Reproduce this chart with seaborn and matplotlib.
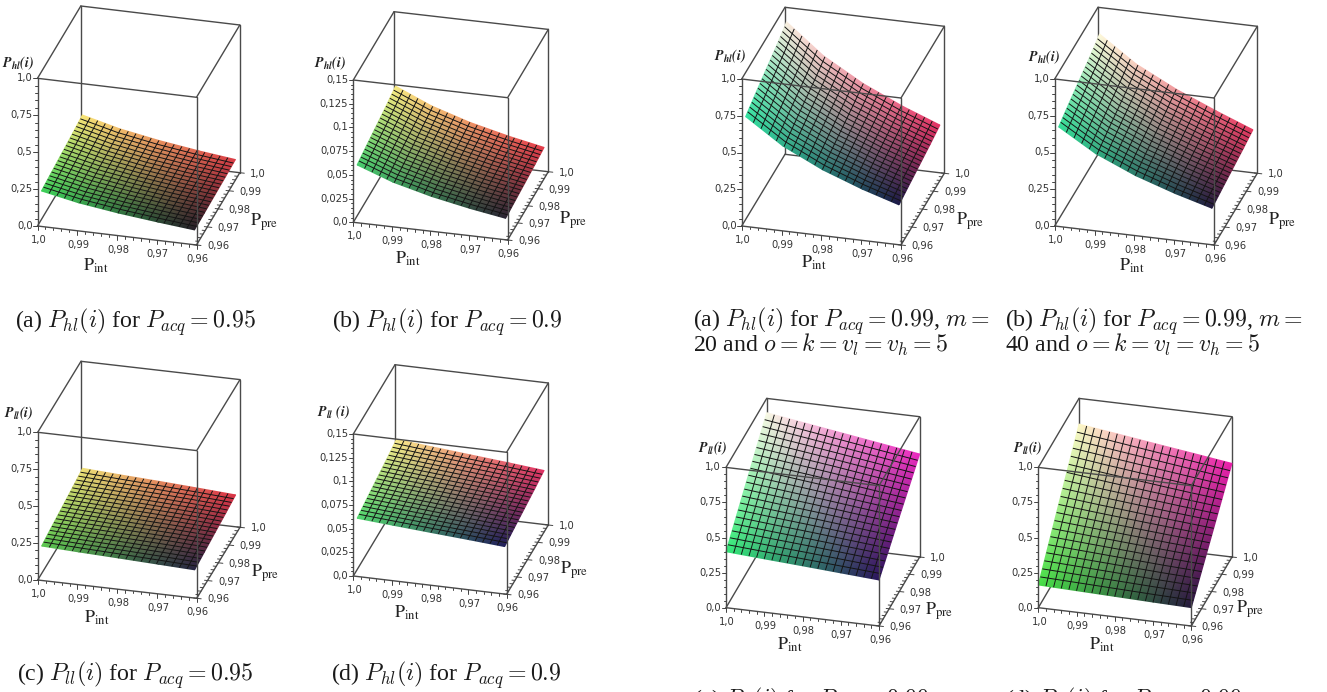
import numpy as np
import matplotlib
matplotlib.use("Agg")
import matplotlib.pyplot as plt
import seaborn as sns

# surface heights, rows = Ppre low to high, cols = Pint 1.0 to 0.96
hl_95 = [[0.226, 0.176, 0.139, 0.110, 0.086],
         [0.238, 0.186, 0.146, 0.114, 0.089],
         [0.251, 0.196, 0.153, 0.119, 0.093],
         [0.264, 0.205, 0.159, 0.123, 0.096],
         [0.278, 0.215, 0.167, 0.129, 0.100]]
hl_90 = [[0.0588, 0.0450, 0.0346, 0.0266, 0.0205],
         [0.0623, 0.0480, 0.0370, 0.0286, 0.0221],
         [0.0660, 0.0510, 0.0395, 0.0306, 0.0237],
         [0.0698, 0.0541, 0.0420, 0.0326, 0.0254],
         [0.0739, 0.0574, 0.0446, 0.0348, 0.0272]]
ll_95 = [[0.219, 0.208, 0.198, 0.187, 0.177],
         [0.237, 0.225, 0.214, 0.203, 0.190],
         [0.255, 0.243, 0.230, 0.218, 0.204],
         [0.273, 0.260, 0.247, 0.233, 0.217],
         [0.291, 0.276, 0.262, 0.246, 0.230]]
ll_90 = [[0.0593, 0.0565, 0.0536, 0.0508, 0.0480],
         [0.0628, 0.0598, 0.0567, 0.0537, 0.0508],
         [0.0664, 0.0632, 0.0600, 0.0568, 0.0536],
         [0.0700, 0.0666, 0.0632, 0.0598, 0.0564],
         [0.0736, 0.0700, 0.0664, 0.0628, 0.0592]]
hl_m20 = [[0.733, 0.564, 0.434, 0.334, 0.257],
          [0.777, 0.601, 0.464, 0.359, 0.277],
          [0.824, 0.639, 0.495, 0.384, 0.297],
          [0.869, 0.676, 0.526, 0.409, 0.318],
          [0.917, 0.715, 0.558, 0.435, 0.339]]
hl_m40 = [[0.663, 0.511, 0.394, 0.304, 0.234],
          [0.704, 0.547, 0.425, 0.330, 0.252],
          [0.748, 0.584, 0.456, 0.354, 0.270],
          [0.790, 0.620, 0.486, 0.380, 0.288],
          [0.834, 0.658, 0.520, 0.405, 0.307]]
ll_m20 = [[0.399, 0.381, 0.364, 0.346, 0.328],
          [0.524, 0.500, 0.478, 0.454, 0.430],
          [0.649, 0.620, 0.592, 0.562, 0.533],
          [0.773, 0.740, 0.706, 0.669, 0.633],
          [0.898, 0.857, 0.816, 0.775, 0.734]]
ll_m40 = [[0.162, 0.154, 0.146, 0.138, 0.131],
          [0.326, 0.310, 0.294, 0.278, 0.265],
          [0.490, 0.465, 0.442, 0.420, 0.399],
          [0.653, 0.620, 0.590, 0.560, 0.533],
          [0.817, 0.780, 0.742, 0.705, 0.667]]

pint_ticks = [1.0, 0.99, 0.98, 0.97, 0.96]
ppre_ticks = [0.96, 0.97, 0.98, 0.99, 1.0]
pint_labels = ["1,0", "0,99", "0,98", "0,97", "0,96"]
ppre_labels = ["0,96", "0,97", "0,98", "0,99", "1,0"]
# most surfaces stop a little short of the box
pint_inset = [0.9993, 0.99, 0.98, 0.97, 0.9608]
ppre_inset = [0.9611, 0.97, 0.98, 0.99, 0.9989]

z_ticks_1 = [0.0, 0.25, 0.5, 0.75, 1.0]
z_labels_1 = ["0,0", "0,25", "0,5", "0,75", "1,0"]
z_ticks_15 = [0.0, 0.025, 0.05, 0.075, 0.1, 0.125, 0.15]
z_labels_15 = ["0,0", "0,025", "0,05", "0,075", "0,1", "0,125", "0,15"]

# box geometry and colours in image pixels; corners = front-left, front-right, back-left, back-right
panels = [
    dict(data=hl_95, o=(37.5, 226), u=(159, 19), v=(43.3, -72.3), h=147.7, full=False, zt=z_ticks_1, zl=z_labels_1,
         corners=[(60, 210, 90), (35, 30, 40), (250, 230, 120), (220, 60, 70)],
         zlabel=r"$\mathbfit{P_{hl}(i)}$", zpos=(-19, -163), pint=(58, 40), ppre=(227, -4)),
    dict(data=hl_90, o=(353.3, 222.3), u=(154.3, 17.7), v=(40.7, -68.3), h=142.3, full=False, zt=z_ticks_15, zl=z_labels_15,
         corners=[(70, 205, 110), (40, 35, 50), (250, 235, 130), (230, 60, 75)],
         zlabel=r"$\mathbfit{P_{hl}(i)}$", zpos=(-23, -159), pint=(55, 37), ppre=(220, -2)),
    dict(data=ll_95, o=(37.7, 580), u=(159, 18.3), v=(43.3, -71), h=147.7, full=False, zt=z_ticks_1, zl=z_labels_1,
         corners=[(90, 200, 80), (35, 35, 65), (240, 225, 120), (220, 50, 70)],
         zlabel=r"$\mathbfit{P_{ll}(i)}$", zpos=(-19, -167), pint=(59, 38), ppre=(227, -7)),
    dict(data=ll_90, o=(353.3, 576), u=(153.3, 18.3), v=(41.7, -69.3), h=142, full=False, zt=z_ticks_15, zl=z_labels_15,
         corners=[(80, 215, 110), (30, 30, 90), (250, 235, 140), (225, 50, 100)],
         zlabel=r"$\mathbfit{P_{ll}\ (i)}$", zpos=(-20, -164), pint=(54, 37), ppre=(221, -6)),
    dict(data=hl_m20, o=(741.7, 226), u=(159.3, 19), v=(43.3, -71.7), h=147, full=False, zt=z_ticks_1, zl=z_labels_1,
         corners=[(50, 225, 160), (25, 25, 70), (250, 240, 225), (230, 50, 100)],
         zlabel=r"$\mathbfit{P_{hl}(i)}$", zpos=(-12, -170), pint=(72, 37), ppre=(228, -5)),
    dict(data=hl_m40, o=(1054.7, 226), u=(159.3, 19), v=(43.3, -71.7), h=147, full=False, zt=z_ticks_1, zl=z_labels_1,
         corners=[(50, 220, 150), (30, 25, 60), (255, 250, 220), (230, 55, 95)],
         zlabel=r"$\mathbfit{P_{hl}(i)}$", zpos=(-11, -169), pint=(77, 40), ppre=(227, -5)),
    dict(data=ll_m20, o=(726, 607.7), u=(153, 18.3), v=(40.7, -69), h=140.3, full=True, zt=z_ticks_1, zl=z_labels_1,
         corners=[(50, 235, 120), (40, 20, 90), (250, 250, 230), (235, 40, 190)],
         zlabel=r"$\mathbfit{P_{ll}(i)}$", zpos=(-13, -159), pint=(64, 37), ppre=(213, 3)),
    dict(data=ll_m40, o=(1038.3, 607.7), u=(153, 18.3), v=(40.7, -69), h=140.3, full=True, zt=z_ticks_1, zl=z_labels_1,
         corners=[(70, 225, 70), (35, 25, 60), (255, 250, 200), (235, 30, 170)],
         zlabel=r"$\mathbfit{P_{ll}(i)}$", zpos=(-11, -159), pint=(64, 37), ppre=(212, 2)),
]

captions = [
    (15, 322, r"(a) $P_{hl}(i)$ for $P_{acq}=0.95$"),
    (332, 322, r"(b) $P_{hl}(i)$ for $P_{acq}=0.9$"),
    (17, 675, r"(c) $P_{ll}(i)$ for $P_{acq}=0.95$"),
    (331, 675, r"(d) $P_{hl}(i)$ for $P_{acq}=0.9$"),
    (693, 321, r"(a) $P_{hl}(i)$ for $P_{acq}=0.99$, $m=$"),
    (693, 345, r"20 and $o=k=v_l=v_h=5$"),
    (1005, 321, r"(b) $P_{hl}(i)$ for $P_{acq}=0.99$, $m=$"),
    (1005, 345, r"40 and $o=k=v_l=v_h=5$"),
    (693, 701, r"(c) $P_{ll}(i)$ for $P_{acq}=0.99$, $m=$"),
    (1005, 701, r"(d) $P_{ll}(i)$ for $P_{acq}=0.99$, $m=$"),
]

sns.set_theme(style="white")
plt.rcParams["font.family"] = ["Liberation Serif", "DejaVu Sans"]
plt.rcParams["mathtext.fontset"] = "cm"

W, H = 1327, 692
EDGE = "#4a4a4a"
TICK = "#444444"
fig = plt.figure(figsize=(W / 100, H / 100), dpi=100)


def project(p, pint, ppre, z):
    # Maple style parallel projection of the box
    a = (1.0 - np.asarray(pint, dtype=float)) / 0.04
    b = (np.asarray(ppre, dtype=float) - 0.96) / 0.04
    zmax = p["zt"][-1]
    x = p["o"][0] + a * p["u"][0] + b * p["v"][0]
    y = p["o"][1] + a * p["u"][1] + b * p["v"][1] - np.asarray(z, dtype=float) / zmax * p["h"]
    return x, y


def edge(ax, p, start, end, zorder):
    xs, ys = project(p, [start[0], end[0]], [start[1], end[1]], [start[2], end[2]])
    sns.lineplot(x=xs, y=ys, sort=False, estimator=None, color=EDGE, linewidth=1.0,
                 ax=ax, zorder=zorder, legend=False)


def tick(ax, x, y, dx, dy):
    ax.plot([x, x + dx], [y, y + dy], color=TICK, linewidth=0.7, zorder=4)


def draw_panel(p):
    x0, y0 = p["o"]
    left, top = x0 - 45, y0 - 235
    width, height = 320, 290
    ax = fig.add_axes([left / W, 1 - (top + height) / H, width / W, height / H])

    zmax = p["zt"][-1]
    back = [((1.0, 1.0, 0), (0.96, 1.0, 0)), ((1.0, 0.96, 0), (1.0, 1.0, 0)),
            ((1.0, 1.0, 0), (1.0, 1.0, zmax)), ((0.96, 1.0, 0), (0.96, 1.0, zmax))]
    front = [((1.0, 0.96, 0), (0.96, 0.96, 0)), ((0.96, 0.96, 0), (0.96, 1.0, 0)),
             ((1.0, 0.96, 0), (1.0, 0.96, zmax)), ((0.96, 0.96, 0), (0.96, 0.96, zmax)),
             ((1.0, 0.96, zmax), (0.96, 0.96, zmax)), ((1.0, 0.96, zmax), (1.0, 1.0, zmax)),
             ((0.96, 0.96, zmax), (0.96, 1.0, zmax)), ((1.0, 1.0, zmax), (0.96, 1.0, zmax))]
    for s, e in back:
        edge(ax, p, s, e, 1)

    # surface
    pint_nodes = np.array(pint_ticks if p["full"] else pint_inset)
    ppre_nodes = np.array(ppre_ticks if p["full"] else ppre_inset)
    pi, pp = np.meshgrid(pint_nodes, ppre_nodes)
    X, Y = project(p, pi, pp, np.array(p["data"]))
    fl, fr, bl, br = [np.array(c) / 255 for c in p["corners"]]
    s = ((pint_nodes[0] - pi) / (pint_nodes[0] - pint_nodes[-1]))[..., None]
    t = ((pp - ppre_nodes[0]) / (ppre_nodes[-1] - ppre_nodes[0]))[..., None]
    rgb = (1 - t) * ((1 - s) * fl + s * fr) + t * ((1 - s) * bl + s * br)
    ax.pcolormesh(X, Y, rgb, shading="gouraud", zorder=2)
    levels_i = np.linspace(pint_nodes[-1], pint_nodes[0], 21)[1:-1]
    levels_p = np.linspace(ppre_nodes[0], ppre_nodes[-1], 21)[1:-1]
    ax.contour(X, Y, pi, levels=levels_i, colors="#141414", linewidths=0.7, zorder=2.5)
    ax.contour(X, Y, pp, levels=levels_p, colors="#141414", linewidths=0.7, zorder=2.5)

    for s_, e_ in front:
        edge(ax, p, s_, e_, 3)

    # z axis
    zt = p["zt"]
    for val, lab in zip(zt, p["zl"]):
        x, y = project(p, 1.0, 0.96, val)
        tick(ax, x, y, -4.5, 0)
        ax.text(x - 5, y, lab, ha="right", va="center", fontsize=7.2, color="#333333", family="DejaVu Sans")
    step = zt[1] - zt[0]
    for val in np.arange(0, zmax + 1e-9, step / 5):
        x, y = project(p, 1.0, 0.96, val)
        tick(ax, x, y, -2.5, 0)

    # floor axes
    for val, lab in zip(pint_ticks, pint_labels):
        x, y = project(p, val, 0.96, 0)
        tick(ax, x, y, 0, 4)
        ax.text(x + 1, y + 14, lab, ha="center", va="center", fontsize=7.2, color="#333333", family="DejaVu Sans")
    for val in np.arange(0.96, 1.0, 0.002):
        x, y = project(p, val, 0.96, 0)
        tick(ax, x, y, 0, 2.5)
    for val, lab in zip(ppre_ticks, ppre_labels):
        x, y = project(p, 0.96, val, 0)
        tick(ax, x, y, 4.5, 0.5)
        ax.text(x + 10.5, y + 1, lab, ha="left", va="center", fontsize=7.2, color="#333333", family="DejaVu Sans")
    for val in np.arange(0.96, 1.0, 0.002):
        x, y = project(p, 0.96, val, 0)
        tick(ax, x, y, -3, -0.3)

    ax.text(x0 + p["zpos"][0], y0 + p["zpos"][1], p["zlabel"], ha="center", va="center", fontsize=10,
            color="#222222", math_fontfamily="stix")
    ax.text(x0 + p["pint"][0], y0 + p["pint"][1], r"$\mathrm{P_{int}}$", ha="center", va="center", fontsize=13,
            color="#222222", math_fontfamily="stix")
    ax.text(x0 + p["ppre"][0], y0 + p["ppre"][1], r"$\mathrm{P_{pre}}$", ha="center", va="center", fontsize=13,
            color="#222222", math_fontfamily="stix")

    ax.set_xlim(left, left + width)
    ax.set_ylim(top + height, top)
    ax.axis("off")
    ax.patch.set_alpha(0)


for panel in panels:
    draw_panel(panel)

for cx, cy, text in captions:
    fig.text(cx / W, 1 - cy / H, text, ha="left", va="center", fontsize=17.2, color="#1a1a1a")

fig.savefig("out.png", dpi=100, facecolor="white")
